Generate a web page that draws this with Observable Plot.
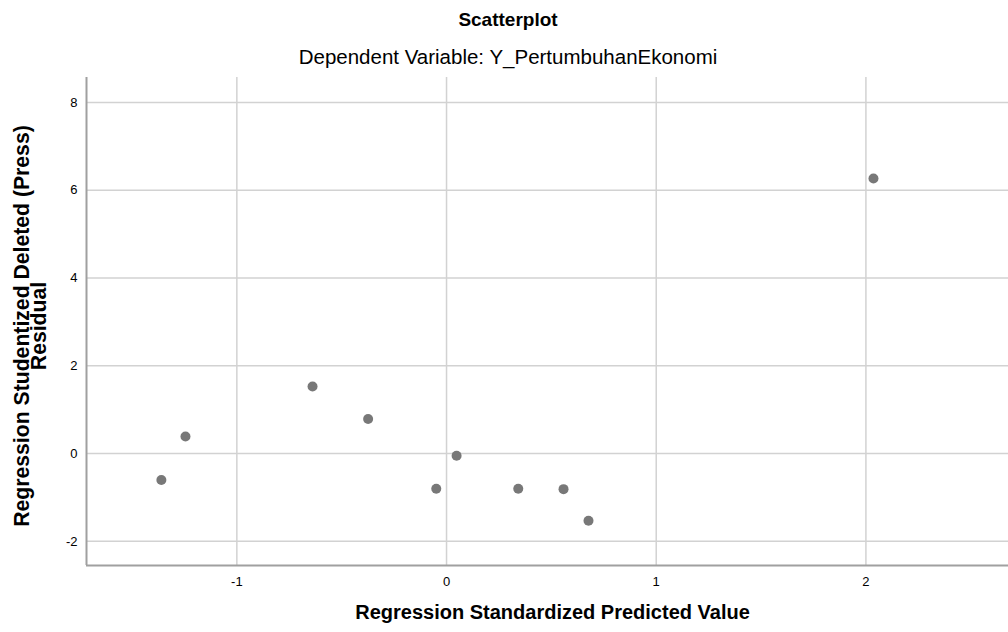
<!DOCTYPE html>
<html>
<head>
<meta charset="utf-8">
<script src="https://cdn.jsdelivr.net/npm/d3@7"></script>
<script src="https://cdn.jsdelivr.net/npm/@observablehq/plot@0.6"></script>
<style>
  html, body { margin: 0; padding: 0; background: #fff; }
  body { width: 1008px; height: 632px; overflow: hidden; font-family: Arial, "Liberation Sans", sans-serif; color: #000; }
  #head { height: 70px; position: relative; }
  #title { position: absolute; left: 0; width: 1016px; top: 9px; text-align: center; font-size: 19px; font-weight: bold; line-height: 22px; }
  #subtitle { position: absolute; left: 0; width: 1016px; top: 45px; text-align: center; font-size: 20.5px; line-height: 24px; }
  #chart { position: relative; }
  #ylabel { position: absolute; left: 29.5px; top: 256px; transform: translate(-50%, -50%) rotate(-90deg); white-space: nowrap; text-align: center; font-size: 21.2px; font-weight: bold; line-height: 17px; }
</style>
</head>
<body>
<div id="head">
  <div id="title">Scatterplot</div>
  <div id="subtitle">Dependent Variable: Y_PertumbuhanEkonomi</div>
</div>
<div id="chart"></div>
<script>
// Data
const predicted = [-1.36, -1.245, -0.639, -0.374, -0.049, 0.048, 0.342, 0.558, 0.677, 2.036];
const residual  = [-0.60,  0.39,   1.53,   0.79,  -0.80, -0.05, -0.80, -0.81, -1.53, 6.27];
const xTicks = [-1, 0, 1, 2];
const yTicks = [-2, 0, 2, 4, 6, 8];
const xDomain = [-1.717, 2.68];
const yDomain = [-2.55, 8.57];
const xTitle = "Regression Standardized Predicted Value";
const yTitle = ["Regression Studentized Deleted (Press)", "Residual"];

const points = predicted.map((x, i) => ({x, y: residual[i]}));

const chart = Plot.plot({
  width: 1008,
  height: 562,
  marginTop: 7,
  marginLeft: 86,
  marginRight: 0,
  marginBottom: 67,
  style: {fontFamily: "Arial, 'Liberation Sans', sans-serif", fontSize: "13px", color: "#000", background: "#fff"},
  x: {domain: xDomain, ticks: xTicks, tickSize: 0, tickPadding: 11, label: null, tickFormat: d => String(d)},
  y: {domain: yDomain, ticks: yTicks, tickSize: 0, tickPadding: 9, label: null, tickFormat: d => String(d)},
  marks: [
    Plot.gridX(xTicks, {stroke: "#d2d2d2", strokeOpacity: 1, strokeWidth: 1.5}),
    Plot.gridY(yTicks, {stroke: "#d2d2d2", strokeOpacity: 1, strokeWidth: 1.5}),
    Plot.ruleX([xDomain[0]], {stroke: "#a0a0a0", strokeWidth: 2}),
    Plot.ruleY([yDomain[0]], {stroke: "#a0a0a0", strokeWidth: 2}),
    Plot.dot(points, {x: "x", y: "y", r: 5, fill: "#787878", stroke: "none"}),
    Plot.text([xTitle], {frameAnchor: "bottom", lineAnchor: "middle", dx: 5, dy: 47, fontSize: 20, fontWeight: "bold", fill: "#000"})
  ]
});
chart.style.overflow = "visible";
document.getElementById("chart").appendChild(chart);
const yl = document.createElement("div");
yl.id = "ylabel";
yl.innerHTML = yTitle.join("<br>");
document.getElementById("chart").appendChild(yl);
</script>
</body>
</html>
